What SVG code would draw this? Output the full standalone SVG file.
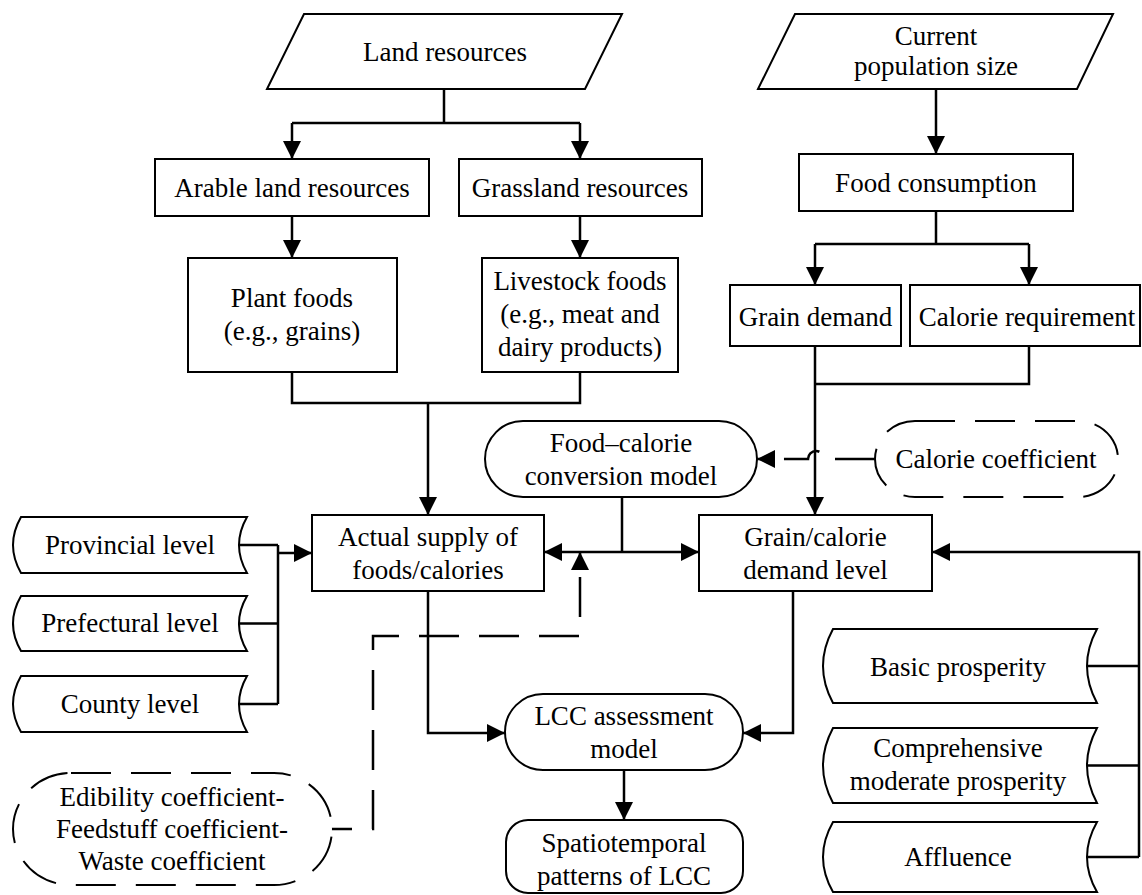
<svg xmlns="http://www.w3.org/2000/svg" width="1142" height="895" viewBox="0 0 1142 895">
<defs>
<marker id="ah" markerUnits="userSpaceOnUse" markerWidth="18" markerHeight="18" viewBox="0 0 18 18" refX="18" refY="9" orient="auto"><path d="M0,0 L18,9 L0,18 Z" fill="#000" stroke="none"/></marker>
</defs>
<rect width="1142" height="895" fill="#fff"/>
<g id="connectors" fill="none" stroke="#000" stroke-width="2.5">
<path d="M444,89 V123 M292,123 H580" />
<path d="M292,123 V159" marker-end="url(#ah)"/>
<path d="M580,123 V159" marker-end="url(#ah)"/>
<path d="M292,216 V258" marker-end="url(#ah)"/>
<path d="M580,216 V258" marker-end="url(#ah)"/>
<path d="M292,372 V403 H580 V372 M428,403 V515" marker-end="url(#ah)"/>
<path d="M936,89 V154" marker-end="url(#ah)"/>
<path d="M936,211 V244 M815,244 H1029"/>
<path d="M815,244 V285" marker-end="url(#ah)"/>
<path d="M1029,244 V285" marker-end="url(#ah)"/>
<path d="M1029,346 V384 H815 M815,346 V515" marker-end="url(#ah)"/>
<path stroke-dasharray="40 20" d="M875,459 H824 A8,8 0 0 0 808,459 H757" marker-end="url(#ah)"/>
<path d="M622,497 V552 M622,552 H699" marker-end="url(#ah)"/>
<path d="M622,552 H544" marker-end="url(#ah)"/>
<path d="M239,545 H278 M239,623.5 H278 M239,704 H278 M278,545 V704 M278,553 H312" marker-end="url(#ah)"/>
<path stroke-dasharray="40 20" d="M312,829 H373 V636 H580 V552" marker-end="url(#ah)"/>
<path d="M1087,666 H1139 M1087,765.5 H1139 M1087,857 H1139 M1139,857 V552 H932" marker-end="url(#ah)"/>
<path d="M428,591 V733 H505" marker-end="url(#ah)"/>
<path d="M793,591 V733 H743" marker-end="url(#ah)"/>
<path d="M624,770 V820" marker-end="url(#ah)"/>
</g>
<g font-family="Liberation Serif" font-size="27" text-anchor="middle" fill="#000">
<g id="land">
<path fill="#fff" stroke="#000" stroke-width="2" d="M304,14 H622 L585,89 H267 Z"/>
<text x="445" y="61">Land resources</text>
</g>
<g id="population">
<path fill="#fff" stroke="#000" stroke-width="2" d="M795,14 H1113 L1077,89 H758 Z"/>
<text x="936" y="45">Current</text>
<text x="936" y="75">population size</text>
</g>
<g id="arable">
<rect fill="#fff" stroke="#000" stroke-width="2" x="155" y="159" width="274" height="57"/>
<text x="292" y="197">Arable land resources</text>
</g>
<g id="grassland">
<rect fill="#fff" stroke="#000" stroke-width="2" x="459" y="159" width="243" height="57"/>
<text x="580" y="197">Grassland resources</text>
</g>
<g id="plant">
<rect fill="#fff" stroke="#000" stroke-width="2" x="188" y="258" width="209" height="114"/>
<text x="292" y="307">Plant foods</text>
<text x="292" y="340">(e.g., grains)</text>
</g>
<g id="livestock">
<rect fill="#fff" stroke="#000" stroke-width="2" x="482" y="258" width="196" height="114"/>
<text x="580" y="290">Livestock foods</text>
<text x="580" y="323">(e.g., meat and</text>
<text x="580" y="356">dairy products)</text>
</g>
<g id="foodcons">
<rect fill="#fff" stroke="#000" stroke-width="2" x="799" y="154" width="274" height="57"/>
<text x="936" y="192">Food consumption</text>
</g>
<g id="graindemand">
<rect fill="#fff" stroke="#000" stroke-width="2" x="730" y="285" width="171" height="61"/>
<text x="815.5" y="326">Grain demand</text>
</g>
<g id="calreq">
<rect fill="#fff" stroke="#000" stroke-width="2" x="910" y="285" width="230" height="61"/>
<text x="1027" y="326">Calorie requirement</text>
</g>
<g id="foodcal">
<rect fill="#fff" stroke="#000" stroke-width="2" x="485" y="421" width="272" height="76" rx="38" ry="38"/>
<text x="621" y="452">Food–calorie</text>
<text x="621" y="485">conversion model</text>
</g>
<g id="calcoef">
<rect fill="#fff" stroke="#000" stroke-width="2" stroke-dasharray="40 20" x="875" y="421" width="243" height="76" rx="40" ry="38"/>
<text x="996" y="468">Calorie coefficient</text>
</g>
<g id="supply">
<rect fill="#fff" stroke="#000" stroke-width="2" x="312" y="515" width="232" height="76"/>
<text x="428" y="546">Actual supply of</text>
<text x="428" y="579">foods/calories</text>
</g>
<g id="demandlevel">
<rect fill="#fff" stroke="#000" stroke-width="2" x="699" y="515" width="233" height="76"/>
<text x="815.5" y="546">Grain/calorie</text>
<text x="815.5" y="579">demand level</text>
</g>
<g id="provincial">
<path fill="#fff" stroke="#000" stroke-width="2" d="M21,517 H247 Q231,545 247,573 H21 Q5,545 21,517 Z"/>
<text x="130" y="554">Provincial level</text>
</g>
<g id="prefectural">
<path fill="#fff" stroke="#000" stroke-width="2" d="M21,596 H247 Q231,623.5 247,651 H21 Q5,623.5 21,596 Z"/>
<text x="130" y="632">Prefectural level</text>
</g>
<g id="county">
<path fill="#fff" stroke="#000" stroke-width="2" d="M21,676 H247 Q231,704 247,732 H21 Q5,704 21,676 Z"/>
<text x="130" y="713">County level</text>
</g>
<g id="edibility">
<rect fill="#fff" stroke="#000" stroke-width="2" stroke-dasharray="40 20" x="13" y="773" width="319" height="112" rx="58" ry="56"/>
<text x="172" y="806">Edibility coefficient-</text>
<text x="172" y="838">Feedstuff coefficient-</text>
<text x="172" y="870">Waste coefficient</text>
</g>
<g id="lcc">
<rect fill="#fff" stroke="#000" stroke-width="2" x="505" y="694" width="238" height="76" rx="38" ry="38"/>
<text x="624" y="725">LCC assessment</text>
<text x="624" y="758">model</text>
</g>
<g id="spatio">
<rect fill="#fff" stroke="#000" stroke-width="2" x="506" y="820" width="237" height="73" rx="22" ry="22"/>
<text x="624" y="852">Spatiotemporal</text>
<text x="624" y="885">patterns of LCC</text>
</g>
<g id="basic">
<path fill="#fff" stroke="#000" stroke-width="2" d="M833,629 H1097 Q1077,666 1097,703 H833 Q813,666 833,629 Z"/>
<text x="958" y="676">Basic prosperity</text>
</g>
<g id="comprehensive">
<path fill="#fff" stroke="#000" stroke-width="2" d="M833,728 H1097 Q1077,765.5 1097,803 H833 Q813,765.5 833,728 Z"/>
<text x="958" y="757">Comprehensive</text>
<text x="958" y="790">moderate prosperity</text>
</g>
<g id="affluence">
<path fill="#fff" stroke="#000" stroke-width="2" d="M833,822 H1097 Q1077,857 1097,892 H833 Q813,857 833,822 Z"/>
<text x="958" y="866">Affluence</text>
</g>
</g>
</svg>
